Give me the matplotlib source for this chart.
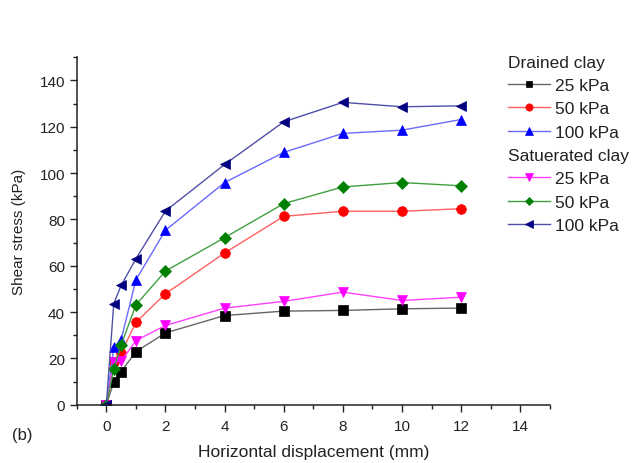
import matplotlib
matplotlib.use("Agg")
import matplotlib.pyplot as plt
from matplotlib.lines import Line2D
from matplotlib.ticker import MultipleLocator

plt.rcParams['font.family'] = ['Liberation Sans', 'DejaVu Sans']

x = [0, 0.25, 0.5, 1, 2, 4, 6, 8, 10, 12]
drained_25 = [0, 9.7, 14.3, 22.9, 31.0, 38.5, 40.4, 40.7, 41.4, 41.7]
drained_50 = [0, 18.3, 22.2, 35.6, 47.9, 65.5, 81.3, 83.5, 83.5, 84.6]
drained_100 = [0, 24.8, 28.1, 53.9, 75.3, 95.9, 108.9, 117.1, 118.5, 123.1]
sat_25 = [0, 18.6, 18.8, 27.7, 34.2, 41.7, 44.6, 48.6, 45.0, 46.4]
sat_50 = [0, 15.4, 25.8, 43.1, 57.7, 72.1, 86.8, 94.0, 95.9, 94.5]
sat_100 = [0, 43.6, 51.5, 63.0, 83.6, 103.7, 122.1, 130.5, 128.6, 129.0]
labels = ["25 kPa", "50 kPa", "100 kPa"]
group_titles = ["Drained clay", "Satuerated clay"]

series = [
    (drained_25, 's', 'black', '#666666'),
    (drained_50, 'o', 'red', '#ff6060'),
    (drained_100, '^', 'blue', '#6a6aff'),
    (sat_25, 'v', 'magenta', '#ff40ff'),
    (sat_50, 'D', 'green', '#40a040'),
    (sat_100, '<', '#000080', '#5050a8'),
]

TXT = '#222222'
fig = plt.figure(figsize=(6.4, 4.64), dpi=100)
ax = fig.add_axes([0.120, 0.1256, 0.739, 0.749])

handles = []
for i, (y, m, mc, lc) in enumerate(series):
    ms = 6 if m == 'D' else 7
    if m == 's':
        ms = 6.5
    h, = ax.plot(x, y, color=lc, lw=1.0, marker=m, ms=ms,
                 markerfacecolor=mc, markeredgecolor=mc, markeredgewidth=0.5)
    handles.append(h)

ax.set_xlim(-1, 15)
ax.set_ylim(0, 150)
ax.xaxis.set_major_locator(MultipleLocator(2))
ax.xaxis.set_minor_locator(MultipleLocator(1))
ax.yaxis.set_major_locator(MultipleLocator(20))
ax.yaxis.set_minor_locator(MultipleLocator(10))
ax.spines['top'].set_visible(False)
ax.spines['right'].set_visible(False)
for s in ['left', 'bottom']:
    ax.spines[s].set_linewidth(1.1)
    ax.spines[s].set_color(TXT)
ax.tick_params(which='major', direction='out', length=5, width=1.0, labelsize=11, colors=TXT)
ax.tick_params(which='minor', direction='out', length=3, width=1.0, colors=TXT)
ax.tick_params(axis='x', pad=5)
ax.set_xlabel("Horizontal displacement (mm)", fontsize=12.5, color=TXT, labelpad=8)
ax.set_ylabel("Shear stress (kPa)", fontsize=11, color=TXT, labelpad=10)

blank = Line2D([], [], color='none')
leg_handles = [blank] + handles[:3] + [blank] + handles[3:]
leg_labels = [group_titles[0]] + labels + [group_titles[1]] + labels
leg = fig.legend(leg_handles, leg_labels, loc='upper left', bbox_to_anchor=(0.794, 0.880),
                 frameon=False, fontsize=12.5, handlelength=2.4, handletextpad=0.3,
                 labelspacing=0.47, borderpad=0.0, borderaxespad=0.0, markerscale=0.75)
texts = leg.get_texts()
for t in texts:
    t.set_color(TXT)

fig.canvas.draw()
lx0 = leg.get_window_extent().x0
for idx, title in zip([0, 4], group_titles):
    t = texts[idx]
    bb = t.get_window_extent()
    t.set_visible(False)
    fig.text(lx0 / fig.bbox.width, bb.y0 / fig.bbox.height, title,
             fontsize=12.5, color=TXT, va='bottom')

fig.text(0.018, 0.052, "(b)", fontsize=12, color=TXT)

fig.savefig("out.png", dpi=100, facecolor='white')
